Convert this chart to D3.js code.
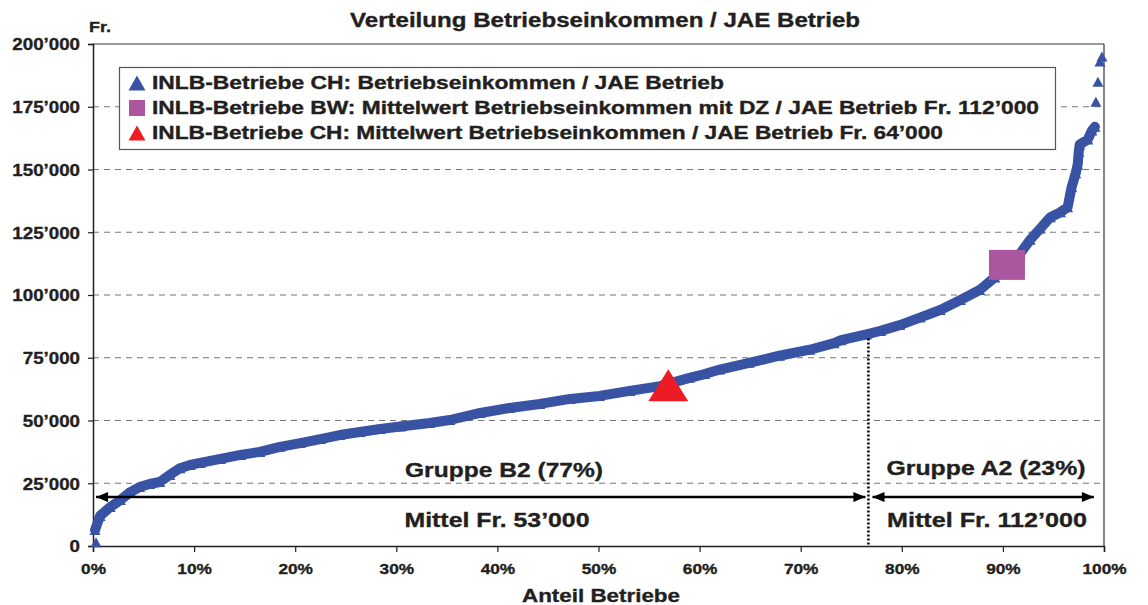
<!DOCTYPE html>
<html>
<head>
<meta charset="utf-8">
<script src="https://cdn.jsdelivr.net/npm/d3@7"></script>
<style>
  body { margin: 0; background: #fff; }
  text { font-family: "Liberation Sans", Arial, sans-serif; font-weight: bold; fill: #231f20; stroke: #231f20; stroke-width: 0.35px; }
</style>
</head>
<body>
<div id="chart"></div>
<script>
// Anteil Betriebe (%) and Betriebseinkommen / JAE (Fr.)
const shares = [0.3, 0.2, 0.7, 1.7, 2.7, 3.7, 4.6, 5.6, 6.6, 7.6, 8.6, 9.6, 10.6, 12.6, 14.6, 16.5, 18.5,
	20.5, 22.5, 24.4, 26.4, 28.4, 30.4, 33.3, 35.3, 38.3, 41.2, 44.2, 47.2, 50.1, 53.1, 56.1, 59.0,
	60.5, 62.0, 64.9, 67.9, 70.9, 73.3, 74.0, 76.5, 77.9, 79.8, 81.8, 83.8, 85.8, 87.7, 89.2, 90.4,
	91.7, 92.7, 93.7, 94.7, 95.7, 96.4, 96.8, 97.2, 97.4, 97.5, 97.6, 98.4, 98.8, 99.1,
	99.2, 99.4, 99.6, 99.8];
const incomes = [1500, 6400, 12000, 15500, 18300, 21500, 23500, 24700, 25500, 28300, 31000, 32300, 33100, 34700, 36300, 37500, 39500,
	41000, 42600, 44200, 45400, 46600, 47600, 49000, 50200, 53000, 55000, 56600, 58600, 59800, 61800, 63700, 67000,
	68500, 70300, 73000, 75800, 78200, 80800, 82000, 84300, 85700, 88000, 91000, 94000, 98000, 102000, 107000, 112000,
	116500, 122000, 126500, 131000, 133000, 135000, 143000, 148500, 152000, 157000, 160000, 162000, 165500, 167000,
	177000, 185000, 193000, 195000];

const meanCH = { share: 56.9, value: 64000 };
const meanBW = { share: 90.4, value: 112000 };

const yTicks = [0, 25000, 50000, 75000, 100000, 125000, 150000, 175000, 200000];
const xTicks = [0, 10, 20, 30, 40, 50, 60, 70, 80, 90, 100];

const legendLabels = [
	'INLB-Betriebe CH: Betriebseinkommen / JAE Betrieb',
	'INLB-Betriebe BW: Mittelwert Betriebseinkommen mit DZ / JAE Betrieb Fr. 112’000',
	'INLB-Betriebe CH: Mittelwert Betriebseinkommen / JAE Betrieb Fr. 64’000'
];

const groupSplit = 76.7;
const arrowValue = 19500;
const groupB = { from: 0.3, to: 76.4, top: 'Gruppe B2 (77%)', bottom: 'Mittel Fr. 53’000' };
const groupA = { from: 77.1, to: 99.0, top: 'Gruppe A2 (23%)', bottom: 'Mittel Fr. 112’000' };

const blue = '#3953a4';
const red = '#ed1c24';
const purple = '#aa579f';

const width = 1148;
const height = 605;

const svg = d3.select('#chart')
	.append('svg')
	.attr('width', width)
	.attr('height', height);

const x = d3.scaleLinear().domain([0, 100]).range([93, 1104]);
const y = d3.scaleLinear().domain([0, 200000]).range([546, 44]);

const fmt = v => v === 0 ? '0' : d3.format(',')(v).replace(/,/g, '’');

// the original type is set wide: stretch text horizontally
const stretch = (sel, k) => sel.each(function () {
	const len = this.getComputedTextLength();
	d3.select(this).attr('textLength', len * k).attr('lengthAdjust', 'spacingAndGlyphs');
});
const fitTo = (sel, w) => sel.attr('textLength', w).attr('lengthAdjust', 'spacingAndGlyphs');

// gridlines
svg.append('g')
	.selectAll('line')
	.data(yTicks.slice(1, -1))
	.join('line')
	.attr('x1', x(0))
	.attr('x2', x(100))
	.attr('y1', d => y(d))
	.attr('y2', d => y(d))
	.attr('stroke', '#777')
	.attr('stroke-width', 1)
	.attr('stroke-dasharray', '6,5');

// frame top / right
svg.append('line')
	.attr('x1', x(0)).attr('x2', x(100))
	.attr('y1', y(200000)).attr('y2', y(200000))
	.attr('stroke', '#333').attr('stroke-width', 1.2);
svg.append('line')
	.attr('x1', x(100)).attr('x2', x(100))
	.attr('y1', y(200000)).attr('y2', y(0))
	.attr('stroke', '#333').attr('stroke-width', 1.2);

// axes
const yAxis = svg.append('g')
	.attr('transform', `translate(${x(0)},0)`)
	.call(d3.axisLeft(y).tickValues(yTicks).tickFormat(fmt).tickSize(5).tickPadding(8));
const xAxis = svg.append('g')
	.attr('transform', `translate(0,${y(0)})`)
	.call(d3.axisBottom(x).tickValues(xTicks).tickFormat(d => d + '%').tickSize(6).tickPadding(8));

[yAxis, xAxis].forEach(ax => {
	ax.select('.domain').attr('stroke', '#231f20').attr('stroke-width', 1.5);
	ax.selectAll('.tick line').attr('stroke', '#231f20').attr('stroke-width', 1.2);
	ax.selectAll('text').attr('font-size', 16).attr('fill', '#231f20')
		.style('font-family', '"Liberation Sans", Arial, sans-serif');
});
yAxis.selectAll('text').attr('dy', '0.36em').call(stretch, 1.17);
xAxis.selectAll('text').attr('font-size', 15).attr('dy', '0.95em').call(stretch, 1.15);

// title and labels
svg.append('text')
	.attr('x', 605).attr('y', 27)
	.attr('text-anchor', 'middle')
	.attr('font-size', 20)
	.call(fitTo, 510)
	.text('Verteilung Betriebseinkommen / JAE Betrieb');
svg.append('text')
	.attr('x', 89).attr('y', 32)
	.attr('font-size', 15)
	.call(fitTo, 22)
	.text('Fr.');
svg.append('text')
	.attr('x', 601).attr('y', 602)
	.attr('text-anchor', 'middle')
	.attr('font-size', 19)
	.call(fitTo, 158)
	.text('Anteil Betriebe');

// shapes
const tri = (w, h) => `M0,${-h / 2}L${w / 2},${h / 2}L${-w / 2},${h / 2}Z`;

// data series
const points = shares.map((s, i) => ({ share: s, value: incomes[i] }));
const band = points.filter((d, i) => i > 0 && d.value <= 167000);

svg.append('path')
	.datum(band)
	.attr('d', d3.line().x(d => x(d.share)).y(d => y(d.value)))
	.attr('fill', 'none')
	.attr('stroke', blue)
	.attr('stroke-width', 10)
	.attr('stroke-linejoin', 'round')
	.attr('stroke-linecap', 'round');

svg.append('g')
	.selectAll('path')
	.data(points)
	.join('path')
	.attr('transform', d => `translate(${x(d.share)},${y(d.value)})`)
	.attr('d', tri(11, 10))
	.attr('fill', blue);

// group split and arrows
svg.append('line')
	.attr('x1', x(groupSplit)).attr('x2', x(groupSplit))
	.attr('y1', y(incomes[shares.indexOf(76.5)]) + 4).attr('y2', y(0))
	.attr('stroke', '#000')
	.attr('stroke-width', 2.5)
	.attr('stroke-dasharray', '2,2');

svg.append('defs')
	.append('marker')
	.attr('id', 'head')
	.attr('viewBox', '0 0 12 10')
	.attr('refX', 12).attr('refY', 5)
	.attr('markerUnits', 'userSpaceOnUse')
	.attr('markerWidth', 13).attr('markerHeight', 10)
	.attr('orient', 'auto-start-reverse')
	.append('path')
	.attr('d', 'M0,0L12,5L0,10Z')
	.attr('fill', '#000');

[groupB, groupA].forEach(g => {
	svg.append('line')
		.attr('x1', x(g.from)).attr('x2', x(g.to))
		.attr('y1', y(arrowValue)).attr('y2', y(arrowValue))
		.attr('stroke', '#000')
		.attr('stroke-width', 2.5)
		.attr('marker-start', 'url(#head)')
		.attr('marker-end', 'url(#head)');
});

svg.append('text').attr('x', 504).attr('y', 477).attr('text-anchor', 'middle')
	.attr('font-size', 21).call(fitTo, 198).text(groupB.top);
svg.append('text').attr('x', 497).attr('y', 527).attr('text-anchor', 'middle')
	.attr('font-size', 21).call(fitTo, 185).text(groupB.bottom);
svg.append('text').attr('x', 986).attr('y', 475).attr('text-anchor', 'middle')
	.attr('font-size', 21).call(fitTo, 199).text(groupA.top);
svg.append('text').attr('x', 987).attr('y', 527).attr('text-anchor', 'middle')
	.attr('font-size', 21).call(fitTo, 200).text(groupA.bottom);

// mean markers
svg.append('path')
	.attr('transform', `translate(${x(meanCH.share)},${y(meanCH.value)})`)
	.attr('d', tri(40, 32))
	.attr('fill', red);
svg.append('rect')
	.attr('x', x(meanBW.share) - 18)
	.attr('y', y(meanBW.value) - 15)
	.attr('width', 36)
	.attr('height', 30)
	.attr('fill', purple);

// legend
const legend = svg.append('g');
legend.append('rect')
	.attr('x', 119.5).attr('y', 67.5)
	.attr('width', 936).attr('height', 82)
	.attr('fill', '#fff')
	.attr('stroke', '#555')
	.attr('stroke-width', 1.2);

const legendWidths = [572, 887, 791];
const rows = legend.selectAll('g.row')
	.data(legendLabels)
	.join('g')
	.attr('class', 'row')
	.attr('transform', (d, i) => `translate(137,${83 + i * 25})`);

rows.append('path')
	.attr('d', (d, i) => i === 1 ? 'M-8,-8H8V8H-8Z' : tri(17, 15))
	.attr('fill', (d, i) => [blue, purple, red][i]);

rows.append('text')
	.attr('x', 15)
	.attr('y', 6)
	.attr('font-size', 17.5)
	.attr('textLength', (d, i) => legendWidths[i])
	.attr('lengthAdjust', 'spacingAndGlyphs')
	.text(d => d);
</script>
</body>
</html>
